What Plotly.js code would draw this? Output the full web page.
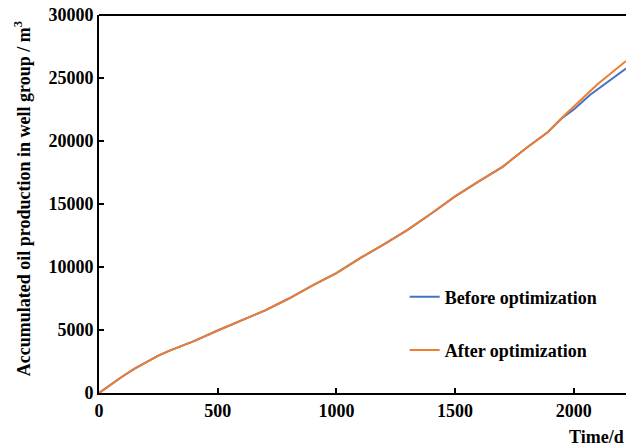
<!DOCTYPE html>
<html>
<head>
<meta charset="utf-8">
<script src="https://cdn.plot.ly/plotly-3.0.1.min.js"></script>
<style>html,body{margin:0;padding:0;background:#fff;}#chart{width:626px;height:447px;}</style>
</head>
<body>
<div id="chart"></div>
<script>
const days = [0, 50, 100, 150, 200, 250, 300, 400, 500, 600, 700, 800, 900, 1000, 1100, 1200, 1300, 1400, 1500, 1600, 1700, 1800, 1890, 1950, 2000, 2068, 2100, 2220];
const beforeOpt = [0, 680, 1330, 1930, 2450, 2960, 3380, 4120, 4960, 5740, 6560, 7500, 8550, 9520, 10700, 11800, 12950, 14250, 15600, 16800, 17950, 19450, 20700, 21800, 22500, 23650, 24100, 25750];
const afterOpt  = [0, 680, 1330, 1930, 2450, 2960, 3380, 4120, 4960, 5740, 6560, 7500, 8550, 9520, 10700, 11800, 12950, 14250, 15600, 16800, 17950, 19450, 20700, 21850, 22730, 24000, 24500, 26350];
const seriesNames = ['Before optimization', 'After optimization'];
const xTicks = [0, 500, 1000, 1500, 2000];
const yTicks = [0, 5000, 10000, 15000, 20000, 25000, 30000];
const yTitle = 'Accumulated oil production in well group / m<sup>3</sup>';
const xTitle = 'Time/d';

const fontFam = 'Liberation Serif, Times New Roman, serif';
const fnt = {family: fontFam, size: 18, weight: 'bold', color: '#000'};
const traces = [
  {x: days, y: beforeOpt, name: seriesNames[0], mode: 'lines', legendgroup: 'a',
   line: {color: '#4472C4', width: 2}},
  {x: days, y: afterOpt, name: seriesNames[1], mode: 'lines', legendgroup: 'b',
   line: {color: '#ED7D31', width: 2}}
];
const layout = {
  width: 626, height: 447,
  margin: {l: 99, r: 0, t: 15, b: 54},
  paper_bgcolor: '#fff', plot_bgcolor: '#fff',
  font: fnt,
  showlegend: true,
  legend: {x: 0.58, xanchor: 'left', y: 0.303, yanchor: 'top', bgcolor: 'rgba(0,0,0,0)',
           tracegroupgap: 27, font: fnt},
  xaxis: {range: [0, 2220], tickvals: xTicks, ticktext: xTicks.map(String),
          ticks: 'inside', ticklen: 5, tickwidth: 2, tickcolor: '#000',
          showline: true, linecolor: '#000', linewidth: 2, mirror: false,
          showgrid: false, zeroline: false, tickfont: fnt},
  yaxis: {range: [0, 30000], tickvals: yTicks, ticktext: yTicks.map(String),
          ticks: 'inside', ticklen: 5, tickwidth: 2, tickcolor: '#000',
          showline: true, linecolor: '#000', linewidth: 2,
          showgrid: false, zeroline: false, tickfont: fnt},
  shapes: [{type: 'line', xref: 'paper', yref: 'paper', x0: 0, x1: 1, y0: 1, y1: 1,
            line: {color: '#000', width: 2}}],
  annotations: [
    {text: xTitle, xref: 'paper', yref: 'paper', x: 1, y: -0.116,
     xanchor: 'right', yanchor: 'middle', showarrow: false, font: fnt},
    {text: yTitle, xref: 'paper', yref: 'paper', x: -0.146, y: 0.513, textangle: -90,
     xanchor: 'center', yanchor: 'middle', showarrow: false, font: fnt}
  ]
};
Plotly.newPlot('chart', traces, layout, {displayModeBar: false, staticPlot: true});
</script>
</body>
</html>
